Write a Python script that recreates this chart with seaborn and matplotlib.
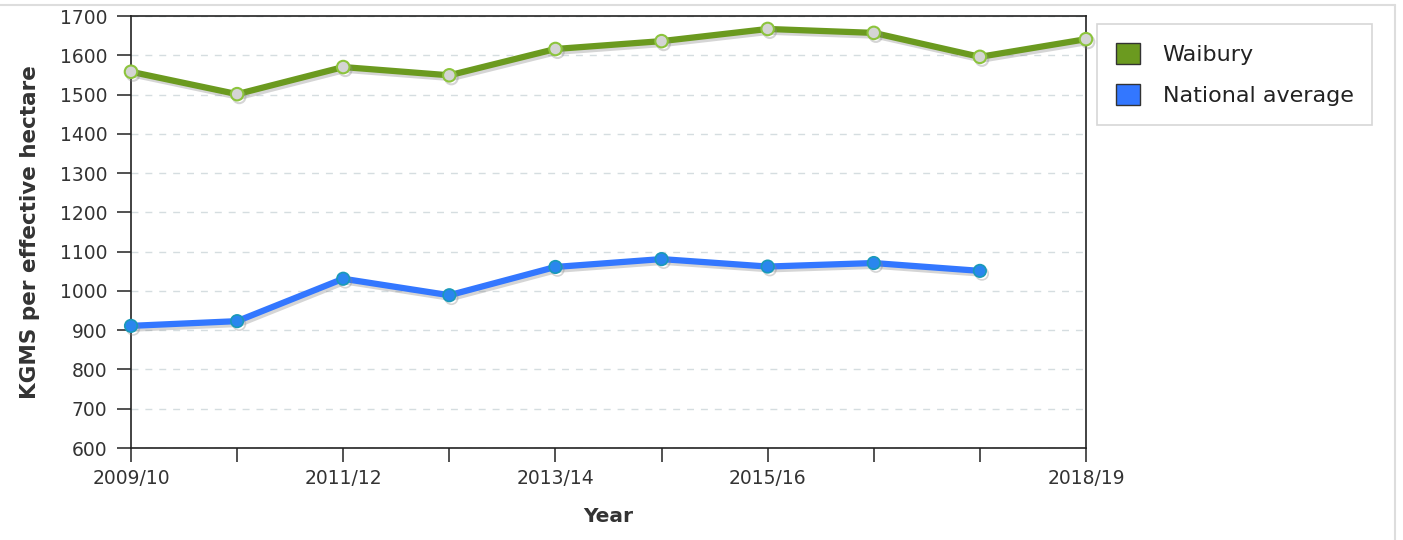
import pandas as pd
import numpy as np
import matplotlib
matplotlib.use('Agg')
import matplotlib.pyplot as plt
import matplotlib.patheffects as pe
from matplotlib.patches import Patch
import seaborn as sns

# Data
years = ['2009/10', '2010/11', '2011/12', '2012/13', '2013/14',
         '2014/15', '2015/16', '2016/17', '2017/18', '2018/19']
waibury = [1558, 1501, 1570, 1549, 1616, 1636, 1667, 1657, 1596, 1641]
national = [911, 923, 1031, 989, 1061, 1081, 1062, 1071, 1051, np.nan]
labelled_years = ['2009/10', '2011/12', '2013/14', '2015/16', '2018/19']

df = pd.DataFrame({'pos': range(len(years)), 'Year': years,
                   'Waibury': waibury, 'National average': national})

sns.set_style('white')
plt.rcParams['font.family'] = ['DejaVu Sans']

fig = plt.figure(figsize=(14.03, 5.40), dpi=100)
ax = fig.add_axes([131 / 1403, 1 - 448 / 540, (1086 - 131) / 1403, (448 - 16) / 540])

shadow = [pe.SimpleLineShadow(offset=(1.5, -2), shadow_color='#888888', alpha=0.35),
          pe.Normal()]

green = '#6b9a1f'
blue = '#3377ff'

sns.lineplot(data=df, x='pos', y='Waibury', ax=ax, color=green, linewidth=4.5,
             marker='o', markersize=9, markerfacecolor='#d4d4d4',
             markeredgecolor='#8cc43c', markeredgewidth=1.5,
             path_effects=shadow, clip_on=False, zorder=3)
sns.lineplot(data=df.dropna(), x='pos', y='National average', ax=ax, color=blue,
             linewidth=4.5, marker='o', markersize=9, markerfacecolor='#2a86ee',
             markeredgecolor='#1a9ab8', markeredgewidth=1.2,
             path_effects=shadow, clip_on=False, zorder=3)

ax.set_xlim(0, len(years) - 1)
ax.set_ylim(600, 1700)
ax.set_yticks(range(600, 1701, 100))
ax.set_xticks(range(len(years)))
ax.set_xticklabels([y if y in labelled_years else '' for y in years])

ax.yaxis.grid(True, linestyle=(0, (5, 5)), color='#d5dde0', linewidth=1)
ax.xaxis.grid(False)

for s in ax.spines.values():
    s.set_color('#222222')
    s.set_linewidth(1.2)

ax.tick_params(axis='both', direction='out', length=10, width=1.2, color='#333333',
               labelsize=13.5, labelcolor='#333333', left=True, bottom=True)
ax.tick_params(axis='x', pad=5)
ax.tick_params(axis='y', pad=7)

ax.set_xlabel('Year', fontsize=14.5, fontweight='bold', color='#333333', labelpad=14)
ax.set_ylabel('KGMS per effective hectare', fontsize=15.5, fontweight='bold',
              color='#333333', labelpad=14)

handles = [Patch(facecolor=green, edgecolor='#333333', label='Waibury'),
           Patch(facecolor=blue, edgecolor='#333333', label='National average')]
leg = fig.legend(handles=handles, loc='upper left',
                 bbox_to_anchor=(1097 / 1403, 1 - 24 / 540), frameon=True,
                 fontsize=16, handlelength=1.1, handleheight=1.1,
                 borderpad=0.85, labelspacing=0.85, handletextpad=1.0,
                 fancybox=False, borderaxespad=0)
leg.get_frame().set_edgecolor('#cccccc')
leg.get_frame().set_linewidth(1.2)
for t in leg.get_texts():
    t.set_color('#222222')

# thin frame around the whole chart
fig.add_artist(plt.Line2D([0, 1395 / 1403], [1 - 5 / 540, 1 - 5 / 540],
                          color='#dddddd', linewidth=1.5))
fig.add_artist(plt.Line2D([1395 / 1403, 1395 / 1403], [0, 1 - 5 / 540],
                          color='#dddddd', linewidth=1.5))

fig.savefig('out.png', dpi=100)
